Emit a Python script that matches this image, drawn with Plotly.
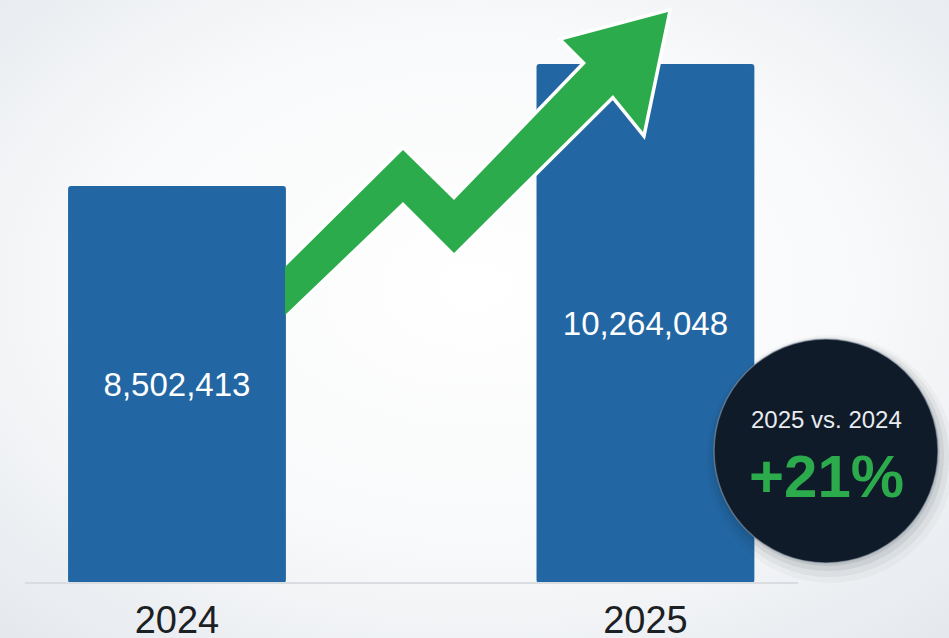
import base64
import plotly.graph_objects as go

# ---- data ----
years = ["2024", "2025"]
values = [8502413, 10264048]
badge_title = "2025 vs. 2024"
badge_value = "+21%"

# ---- styling ----
W, H = 949, 638
MB = 55
PH = H - MB
BAR_COLOR = "#2267a4"
GREEN = "#2bab4b"
NAVY = "#101b2a"

# axis range chosen so the baseline sits at the bottom of the plot area
y_min, y_max = 2769892, 11188182


def px(x, y):
    return x / W, (PH - y) / PH


def to_path(pts):
    return "M " + " L ".join(f"{px(a, b)[0]:.5f},{px(a, b)[1]:.5f}" for a, b in pts) + " Z"


svg = f'''<svg xmlns="http://www.w3.org/2000/svg" width="{W}" height="{H}">
<defs><radialGradient id="g" cx="50%" cy="45%" r="75%">
<stop offset="0%" stop-color="#ffffff"/>
<stop offset="55%" stop-color="#f8f9fa"/>
<stop offset="100%" stop-color="#e4e8ed"/>
</radialGradient></defs>
<rect width="{W}" height="{H}" fill="url(#g)"/></svg>'''
bg_src = "data:image/svg+xml;base64," + base64.b64encode(svg.encode()).decode()

fig = go.Figure()
fig.add_trace(go.Bar(
    x=years,
    y=[v - y_min for v in values],
    base=[y_min] * len(values),
    marker=dict(color=BAR_COLOR, line=dict(width=0)),
    width=0.465,
    text=[f"{v:,}" for v in values],
    textposition="inside",
    insidetextanchor="middle",
    textangle=0,
    constraintext="none",
    textfont=dict(family="Liberation Sans", size=33, color="white"),
    hoverinfo="skip",
))

shapes = []
x0, _ = px(25, 0)
x1, _ = px(798, 0)
shapes.append(dict(type="line", xref="paper", yref="paper", x0=x0, x1=x1, y0=0, y1=0,
                   line=dict(color="#d9dde2", width=2), layer="above"))

# arrow (decorative): white outline copy (shorter tail), then fill on top
arrow_pts = [(285, 267), (403, 150), (454, 200), (586, 63), (563, 40), (668, 12),
             (643, 132), (613, 95), (454, 253), (403, 202), (285, 315)]
outline_pts = [(302, 250)] + arrow_pts[1:-1] + [(302, 298)]
shapes.append(dict(type="path", xref="paper", yref="paper", path=to_path(outline_pts),
                   fillcolor="white", line=dict(color="white", width=7), layer="above"))
shapes.append(dict(type="path", xref="paper", yref="paper", path=to_path(arrow_pts),
                   fillcolor=GREEN, line=dict(width=0), layer="above"))

# badge shadow
cx, cy, r = 826, 451, 112
for grow, dy, op in [(12, 8, 0.03), (8, 6, 0.05), (4, 4, 0.07), (1, 2, 0.09)]:
    a0 = px(cx - r - grow + dy / 2, cy - r - grow + dy)
    a1 = px(cx + r + grow + dy / 2, cy + r + grow + dy)
    shapes.append(dict(type="circle", xref="paper", yref="paper",
                       x0=a0[0], y0=a1[1], x1=a1[0], y1=a0[1],
                       fillcolor=f"rgba(20,30,45,{op})", line=dict(width=0), layer="above"))
c0 = px(cx - r, cy - r)
c1 = px(cx + r, cy + r)
shapes.append(dict(type="circle", xref="paper", yref="paper",
                   x0=c0[0], y0=c1[1], x1=c1[0], y1=c0[1],
                   fillcolor=NAVY, line=dict(color="rgba(150,160,175,0.55)", width=1.5),
                   layer="above"))

annotations = [
    dict(xref="paper", yref="paper", x=px(826, 0)[0], y=px(0, 419)[1],
         xanchor="center", yanchor="middle",
         text=badge_title, showarrow=False,
         font=dict(family="Liberation Sans", size=24, color="#e8ebef")),
    dict(xref="paper", yref="paper", x=px(826, 0)[0], y=px(0, 477)[1],
         xanchor="center", yanchor="middle",
         text=f"<b>{badge_value}</b>", showarrow=False,
         font=dict(family="Liberation Sans", size=60, color=GREEN)),
]

fig.update_layout(
    width=W, height=H,
    margin=dict(l=0, r=0, t=0, b=MB),
    paper_bgcolor="#f4f6f8",
    plot_bgcolor="rgba(0,0,0,0)",
    showlegend=False,
    barcornerradius=3,
    shapes=shapes,
    annotations=annotations,
    images=[dict(source=bg_src, xref="paper", yref="paper", x=0, y=1,
                 sizex=1, sizey=H / PH, xanchor="left", yanchor="top",
                 sizing="stretch", layer="below")],
    xaxis=dict(type="category", range=[-0.3778, 1.648], showgrid=False,
               zeroline=False, showline=False, ticks="outside", ticklen=3,
               tickcolor="rgba(0,0,0,0)", automargin=False,
               tickfont=dict(family="Liberation Sans", size=38, color="#1c1f24")),
    yaxis=dict(range=[y_min, y_max], visible=False, fixedrange=True),
)

fig.write_html("out.html",
               config={"displayModeBar": False, "staticPlot": True},
               post_script="document.body.style.margin='0';document.body.style.overflow='hidden';")
